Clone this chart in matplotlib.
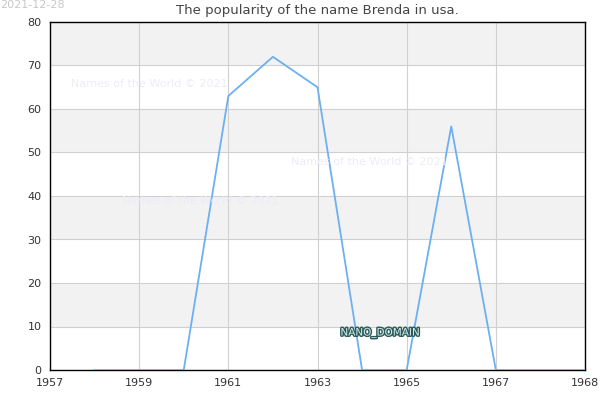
import matplotlib.pyplot as plt
import matplotlib.patheffects as pe

# data
years = [1958, 1959, 1960, 1961, 1962, 1963, 1964, 1965, 1966, 1967, 1968, 1969]
counts = [0, 0, 0, 63, 72, 65, 0, 0, 56, 0, 0, 0]
tick_pos = [1957, 1959, 1961, 1963, 1965, 1967, 1969]
tick_labels = ['1957', '1959', '1961', '1963', '1965', '1967', '1968']

fig = plt.figure(figsize=(6, 4), dpi=100)
ax = fig.add_axes([50 / 600, 1 - 370 / 400, 535 / 600, 348 / 400])

# alternating horizontal bands
for lo in range(10, 80, 20):
    ax.axhspan(lo, lo + 10, color='#f2f2f2', zorder=0, lw=0)

ax.plot(years, counts, color='#6cb0f2', lw=1.3, zorder=3)

ax.set_xlim(1957, 1969)
ax.set_ylim(0, 80)
ax.set_xticks(tick_pos)
ax.set_xticklabels(tick_labels)
ax.set_yticks(range(0, 81, 10))
ax.grid(True, color='#d0d0d0', lw=0.8, zorder=1)
ax.set_axisbelow(True)
ax.tick_params(length=0, labelsize=8, colors='#333333', pad=6)
for s in ax.spines.values():
    s.set_color('black')
    s.set_linewidth(1)

ax.set_title('The popularity of the name Brenda in usa.', fontsize=9.5, color='#444444', pad=6)
fig.text(0, 1, '2021-12-28', ha='left', va='top', fontsize=8, color='#c8c8c8')

wm = 'Names of the World © 2021'
for px, py in [(71, 84), (291, 162), (122, 201)]:
    fig.text(px / 600, 1 - py / 400, wm, ha='left', va='center', fontsize=8, color='#ececfa')

fig.text(380 / 600, 1 - 333 / 400, 'NANO_DOMAIN', ha='center', va='center', fontsize=7.5,
         color='#d8ecec', path_effects=[pe.withStroke(linewidth=2, foreground='#2a5a5a')])

fig.savefig('out.png', dpi=100)
